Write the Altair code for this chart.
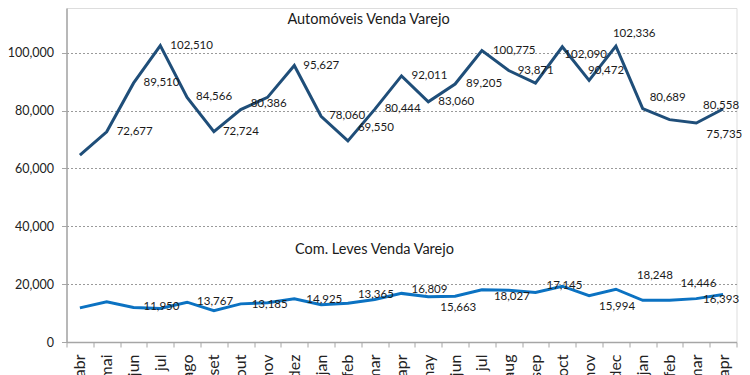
import altair as alt
import pandas as pd

months = ["abr", "mai", "jun", "jul", "ago", "set", "out", "nov", "dez", "jan", "feb", "mar",
          "apr", "may", "jun", "jul", "aug", "sep", "oct", "nov", "dec", "jan", "feb", "mar", "apr"]

autos = [64600, 72677, 89510, 102510, 84566, 72724, 80386, 84600, 95627, 78060, 69550, 80444,
         92011, 83060, 89205, 100775, 93871, 89500, 102090, 90472, 102336, 80689, 76900, 75735, 80558]

leves = [11800, 13900, 11950, 11600, 13767, 10800, 13185, 13600, 14925, 12900, 13365, 14700,
         16809, 15663, 15800, 18027, 17900, 17145, 19300, 15994, 18248, 14400, 14446, 15000, 16393]

# which points carry a value label (as in the reference)
autos_labelled = [1, 2, 3, 4, 5, 6, 8, 9, 10, 11, 12, 13, 14, 15, 16, 18, 19, 20, 21, 23, 24]
leves_labelled = [2, 4, 6, 8, 10, 12, 13, 15, 17, 19, 20, 22, 24]

# label placement (pixel offsets from the point) - layout only
autos_label_offset = {1: (10, 0), 2: (10, 0), 3: (10, 0), 4: (9, 0), 5: (9, 0), 6: (10, -6),
                      8: (9, 1), 9: (8, 0), 10: (10, -13), 11: (10, 0), 12: (10, 0), 13: (10, 0),
                      14: (11, 0), 15: (11, 0), 16: (9, 0), 18: (2, 8), 19: (-1, -9),
                      20: (-3, -12), 21: (7, -11), 23: (10, 12), 24: (-20, -3)}
leves_label_offset = {2: (10, 0), 4: (10, 0), 6: (11, 1), 8: (12, 1), 10: (10, -8),
                      12: (10, -3), 13: (12, 11), 15: (12, 7), 17: (11, -6), 19: (10, 11),
                      20: (21, -13), 22: (11, -16), 24: (-20, 5)}

title_autos = "Automóveis Venda Varejo"
title_leves = "Com. Leves Venda Varejo"

FONT = "Lato"
C_AUTOS = "#1F4E79"
C_LEVES = "#0B72C2"

rows = []
for i in range(len(months)):
    rows.append({"i": i, "serie": "autos", "v": autos[i]})
    rows.append({"i": i, "serie": "leves", "v": leves[i]})
df = pd.DataFrame(rows)

label_expr = "[" + ",".join("'%s'" % m for m in months) + "][datum.value]"

x_enc = alt.X(
    "i:O",
    scale=alt.Scale(type="band", domain=list(range(len(months))), paddingInner=0, paddingOuter=0),
    axis=alt.Axis(
        title=None, labelExpr=label_expr, labelAngle=270, labelFontSize=16, labelFont=FONT,
        labelColor="#222222", tickBand="extent", ticks=True, tickSize=5, tickColor="#A6A6A6",
        domainColor="#A6A6A6", domainWidth=1.5, grid=False, labelPadding=7,
    ),
)
y_enc = alt.Y(
    "v:Q",
    scale=alt.Scale(domain=[0, 115500], nice=False, zero=True),
    axis=alt.Axis(
        title=None, values=[0, 20000, 40000, 60000, 80000, 100000], format=",d",
        labelFontSize=12.5, labelFont=FONT, labelColor="#222222", tickSize=5,
        tickColor="#A6A6A6", domainColor="#A6A6A6", domainWidth=1.5, labelPadding=8,
        grid=True, gridColor="#9A9A9A", gridDash=[2, 2], gridWidth=1,
    ),
)

base = alt.Chart(df)
line_autos = base.transform_filter("datum.serie == 'autos'").mark_line(
    color=C_AUTOS, strokeWidth=3).encode(x=x_enc, y=y_enc)
line_leves = base.transform_filter("datum.serie == 'leves'").mark_line(
    color=C_LEVES, strokeWidth=3).encode(x=x_enc, y=y_enc)

layers = [line_autos, line_leves]


def label_layers(values, labelled, offsets):
    groups = {}
    for i in labelled:
        groups.setdefault(offsets[i], []).append(i)
    out = []
    for (dx, dy), idxs in groups.items():
        sub = pd.DataFrame({"i": idxs, "v": [values[k] for k in idxs]})
        out.append(
            alt.Chart(sub).mark_text(
                align="left", baseline="middle", dx=dx, dy=dy, font=FONT, fontSize=11.5,
                color="#1A1A1A",
            ).encode(
                x=alt.X("i:O"), y=alt.Y("v:Q"), text=alt.Text("v:Q", format=",d")
            )
        )
    return out


layers += label_layers(autos, autos_labelled, autos_label_offset)
layers += label_layers(leves, leves_labelled, leves_label_offset)

titles = pd.DataFrame({"t": [title_autos, title_leves]})
t1 = alt.Chart(titles).transform_filter(alt.datum.t == title_autos).mark_text(
    font=FONT, fontSize=14.5, color="#1A1A1A", align="center", baseline="middle"
).encode(text="t:N", x=alt.value(302), y=alt.value(12))
t2 = alt.Chart(titles).transform_filter(alt.datum.t == title_leves).mark_text(
    font=FONT, fontSize=14.5, color="#1A1A1A", align="center", baseline="middle"
).encode(text="t:N", x=alt.value(308), y=alt.value(242))
layers += [t1, t2]

chart = alt.layer(*layers).properties(
    width=670, height=334,
    autosize=alt.AutoSizeParams(type="none"),
    padding={"left": 58.5, "top": 0, "right": 5, "bottom": 34},
).configure_view(stroke=None).configure(background="white")

chart.save("out.html", embed_options={"renderer": "svg", "actions": False})
